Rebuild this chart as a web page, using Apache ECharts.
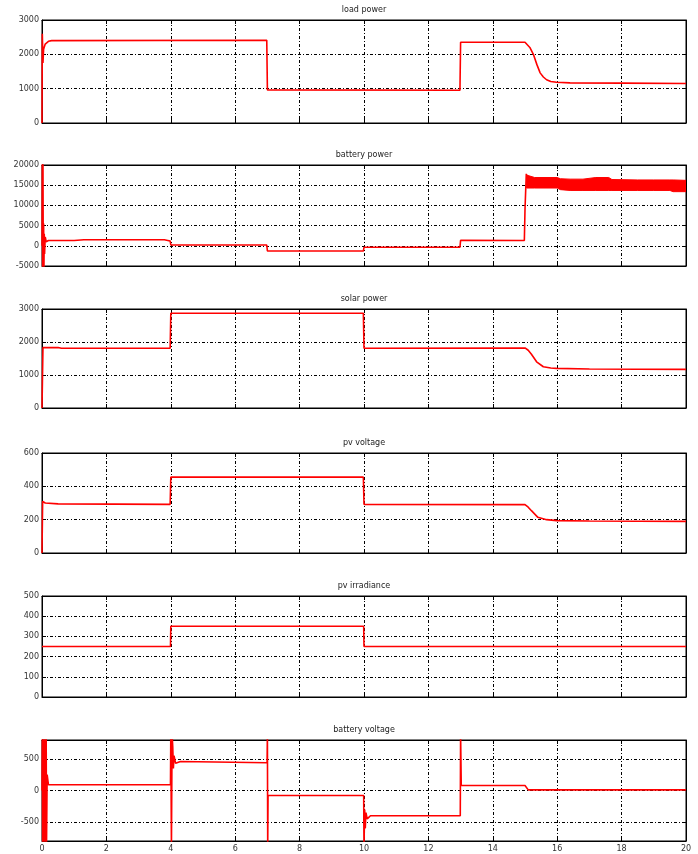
<!DOCTYPE html>
<html>
<head>
<meta charset="utf-8">
<script src="https://cdn.jsdelivr.net/npm/echarts@6/dist/echarts.min.js"></script>
<style>
html,body{margin:0;padding:0;background:#fff;}
#chart{width:698px;height:854px;}
</style>
</head>
<body>
<div id="chart"></div>
<script>
// ---- data (time in s, value) ----
const titles = ['load power', 'battery power', 'solar power', 'pv voltage', 'pv irradiance', 'battery voltage'];
const xTicks = [0, 20, 2];
const yRanges = [[0, 3000, 1000], [-5000, 20000, 5000], [0, 3000, 1000], [0, 600, 200], [0, 500, 100], [-800, 800, null]];
const batteryVoltageTicks = [-500, 0, 500];

const loadPower = [[0,0],[0.01,2600],[0.03,1750],[0.05,2150],[0.1,2300],[0.2,2380],[0.3,2400],[6.98,2410],[7.0,965],[12.98,955],[13.0,2350],[15.0,2350],
  [15.15,2200],[15.26,2000],[15.37,1700],[15.47,1460],[15.57,1340],[15.67,1260],[15.8,1210],[15.98,1185],[16.4,1170],[18,1160],[20,1150]];

const batteryPower = [[0,0],[0.01,21000],[0.02,-6000],[0.03,21000],[0.04,-6000],[0.05,5500],[0.06,-5500],[0.07,3000],[0.08,-2000],[0.1,2200],[0.13,1000],
  [0.2,1300],[1.0,1300],[1.3,1500],[3.8,1500],[3.98,1200],[4.0,200],[6.98,200],[7.0,-1250],[9.98,-1300],[10.0,-370],[12.98,-350],[13.0,1350],
  [14.98,1300],[15.0,9000],[15.04,17800],[15.06,17300]];
const batteryBandT    = [15.05, 15.3, 16.0, 16.1, 16.4, 16.8, 17.2, 17.6, 17.7, 18.5, 19.0, 19.5, 19.6, 20.0];
const batteryBandHigh = [17500, 16900, 16900, 16600, 16500, 16500, 16900, 16900, 16400, 16300, 16300, 16300, 16300, 16200];
const batteryBandLow  = [14300, 14300, 14300, 13900, 13700, 13700, 13700, 13700, 13700, 13700, 13700, 13700, 13400, 13400];

const solarPower = [[0,0],[0.03,1830],[0.5,1835],[0.6,1810],[3.98,1810],[4.0,2870],[9.98,2870],[10.0,1810],[15.0,1820],[15.1,1750],[15.2,1630],
  [15.36,1400],[15.57,1250],[15.8,1210],[15.98,1200],[17,1180],[20,1170]];

const pvVoltage = [[0,0],[0.02,310],[0.1,300],[0.5,295],[3.98,292],[4.0,455],[9.98,455],[10.0,292],[15.0,290],[15.1,275],[15.2,254],[15.4,214],
  [15.67,200],[15.98,194],[17,192],[20,190]];

const pvIrradiance = [[0,250],[3.99,250],[4.0,350],[9.99,350],[10.0,250],[20,250]];

const batteryVoltage = [[0,0],[0.01,900],[0.02,-900],[0.03,900],[0.04,-900],[0.05,900],[0.06,-900],[0.07,900],[0.08,-900],[0.09,900],[0.1,-900],
  [0.11,900],[0.12,-900],[0.13,900],[0.14,-900],[0.16,250],[0.2,90],[3.99,90],[4.0,900],[4.02,-900],[4.04,900],[4.06,700],[4.08,350],[4.1,550],
  [4.15,430],[4.3,460],[6.99,440],[7.0,900],[7.01,-900],[7.02,-80],[9.99,-80],[10.0,-900],[10.02,-300],[10.04,-600],[10.06,-350],[10.1,-450],
  [10.2,-400],[12.99,-400],[13.0,900],[13.02,80],[15.0,80],[15.1,10],[20,10]];

const seriesData = [loadPower, batteryPower, solarPower, pvVoltage, pvIrradiance, batteryVoltage];

// ---- layout ----
const gridTops = [20, 165, 309, 453, 596, 740];
const gridHeights = [103, 101, 99, 100, 101, 101];
const gridLeft = 42, gridRight = 12;
const FONT = 'DejaVu Sans';
const dashDot = [3, 2, 1, 2];

const grids = [], xAxes = [], yAxes = [], series = [], graphics = [];
for (let i = 0; i < 6; i++) {
  grids.push({left: gridLeft, right: gridRight, top: gridTops[i], height: gridHeights[i], show: true, borderColor: '#000', borderWidth: 1, containLabel: false});
  const baseX = {
    gridIndex: i, type: 'value', min: xTicks[0], max: xTicks[1], interval: xTicks[2],
    axisLine: {show: true, onZero: false, lineStyle: {color: '#000', width: 1}},
    axisTick: {show: true, inside: true, length: 4, lineStyle: {color: '#000'}},
  };
  xAxes.push(Object.assign({}, baseX, {
    position: 'bottom',
    axisLabel: {show: i === 5, fontSize: 8, fontFamily: FONT, color: '#333', margin: 4, formatter: v => String(v)},
    splitLine: {show: true, lineStyle: {color: '#000', type: dashDot, width: 1}}
  }));
  xAxes.push(Object.assign({}, baseX, {
    position: 'top', axisLabel: {show: false}, splitLine: {show: false}
  }));
  const r = yRanges[i];
  const baseY = {
    gridIndex: i, type: 'value', min: r[0], max: r[1],
    axisLine: {show: true, onZero: false, lineStyle: {color: '#000', width: 1}},
    axisTick: {show: true, inside: true, length: 4, lineStyle: {color: '#000'}},
  };
  if (r[2] != null) baseY.interval = r[2];
  const yMain = Object.assign({}, baseY, {
    position: 'left',
    axisLabel: {show: true, fontSize: 8, fontFamily: FONT, color: '#333', margin: 3, formatter: v => String(v)},
    splitLine: {show: true, lineStyle: {color: '#000', type: dashDot, width: 1}}
  });
  const yMirror = Object.assign({}, baseY, {position: 'right', axisLabel: {show: false}, splitLine: {show: false}});
  if (r[2] == null) {
    yMain.axisTick = Object.assign({}, yMain.axisTick, {customValues: batteryVoltageTicks});
    yMain.axisLabel = Object.assign({}, yMain.axisLabel, {customValues: batteryVoltageTicks});
    yMirror.axisTick = Object.assign({}, yMirror.axisTick, {customValues: batteryVoltageTicks});
  }
  yAxes.push(yMain, yMirror);

  graphics.push({type: 'text', x: gridLeft + (698 - gridLeft - gridRight) / 2, y: gridTops[i] - 10,
    style: {text: titles[i], textAlign: 'center', textVerticalAlign: 'middle', fontSize: 8, fontFamily: FONT, fill: '#222'}});

  if (i === 1) {
    // oscillation envelope of battery power after t = 15 s, drawn as a filled band
    series.push({type: 'custom', xAxisIndex: 2*i, yAxisIndex: 2*i, data: [0], silent: true, z: 2,
      clip: true,
      renderItem: function (params, api) {
        const pts = [];
        for (let k = 0; k < batteryBandT.length; k++) pts.push(api.coord([batteryBandT[k], batteryBandHigh[k]]));
        for (let k = batteryBandT.length - 1; k >= 0; k--) pts.push(api.coord([batteryBandT[k], batteryBandLow[k]]));
        return {type: 'polygon', shape: {points: pts}, style: {fill: '#ff0000', stroke: '#ff0000', lineWidth: 1}};
      }});
  }
  series.push({type: 'line', xAxisIndex: 2*i, yAxisIndex: 2*i, data: seriesData[i], symbol: 'none', clip: true,
    lineStyle: {color: '#ff0000', width: 1.6}, z: 3});
}

const chart = echarts.init(document.getElementById('chart'), null, {renderer: 'canvas'});
chart.setOption({
  animation: false,
  backgroundColor: '#fff',
  grid: grids, xAxis: xAxes, yAxis: yAxes, series: series, graphic: graphics
});
</script>
</body>
</html>
